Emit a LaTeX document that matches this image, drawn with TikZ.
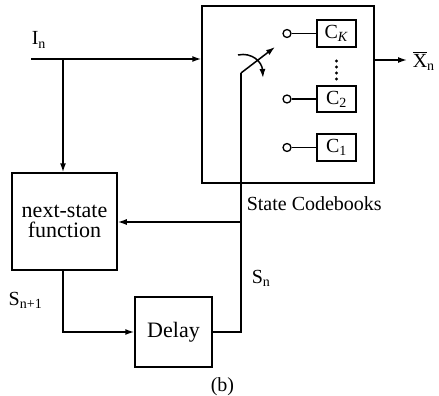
\documentclass[tikz,border=0pt]{standalone}
\usepackage{fontspec}
\setmainfont{Liberation Serif}
\usetikzlibrary{arrows.meta}
\begin{document}
\begin{tikzpicture}[x=1pt,y=-1pt,
  line width=1.5pt,
  font=\fontsize{20}{22}\selectfont,
  box/.style={draw,rectangle,inner sep=0pt},
  big/.style={font=\fontsize{22}{22}\selectfont},
  cb/.style={box,minimum width=39pt,minimum height=27pt},
  port/.style={draw,circle,inner sep=0pt,minimum size=8pt,line width=1.3pt},
  arr/.style={-{Latex[length=9pt,width=6pt]}},
  lbl/.style={inner sep=0pt,anchor=base west}]
\useasboundingbox (0,0) rectangle (439,396);

% blocks
\node[box,big,minimum width=105pt,minimum height=97pt,align=center] (ns) at (64.5,221.5)
  {next-state\\[-2pt]function};
\node[box,big,minimum width=77pt,minimum height=70pt] (dly) at (173.5,332) {Delay};
\node[box,minimum width=172pt,minimum height=177pt] (cbk) at (288,94.5) {};

% state codebooks
\node[cb] (ck) at (336.5,33.5) {C\textsubscript{\textit{K}}};
\node[cb,minimum height=26pt] (c2) at (336.5,99) {C\textsubscript{2}};
\node[cb] (c1) at (336.5,147.5) {C\textsubscript{1}};
\node[port] (pk) at (287,33.5) {};
\node[port] (p2) at (287,99) {};
\node[port] (p1) at (287,147.5) {};
\draw (pk) -- (ck.west);
\draw (p2) -- (c2.west);
\draw (p1) -- (c1.west);
\foreach \y in {61,67,73,79} \fill (336.5,\y) circle (1.7pt);

% switch
\coordinate (pivot) at (241,73);
\coordinate (blade) at (275,47);
\coordinate (rotA) at (238,55);
\coordinate (rotB) at (263,78);
\draw[arr] (pivot) -- (blade);
\draw[arr] (rotA) .. controls (252,52) and (262,62) .. (rotB);

% input I_n
\coordinate (in) at (31,59);
\coordinate (split) at (63,59);
\draw[arr] (in) -- (cbk.west |- in);
\draw[arr] (split) -- (ns.north -| split);

% state loop
\coordinate (nsout) at (63,270);
\coordinate (corner1) at (63,332);
\coordinate (corner2) at (241,332);
\coordinate (tap) at (241,222);
\draw[arr] (nsout) -- (corner1) -- (dly.west);
\draw (dly.east) -- (corner2) -- (pivot);
\draw[arr] (tap) -- (ns.east |- tap);

% output
\coordinate (xout) at (407,60);
\draw[arr] (cbk.east |- xout) -- (xout);

% labels
\node[lbl] (lI) at (31,45) {I\textsubscript{n}};
\node[lbl] (lX) at (412,67) {$\overline{\mbox{X}}$\textsubscript{n}};
\node[lbl] (lSC) at (246,210) {State Codebooks};
\node[lbl] (lSn) at (251,283) {S\textsubscript{n}};
\node[lbl] (lSn1) at (8,305) {S\textsubscript{n+1}};
\node[lbl] (lb) at (210,391) {(b)};
\end{tikzpicture}
\end{document}
